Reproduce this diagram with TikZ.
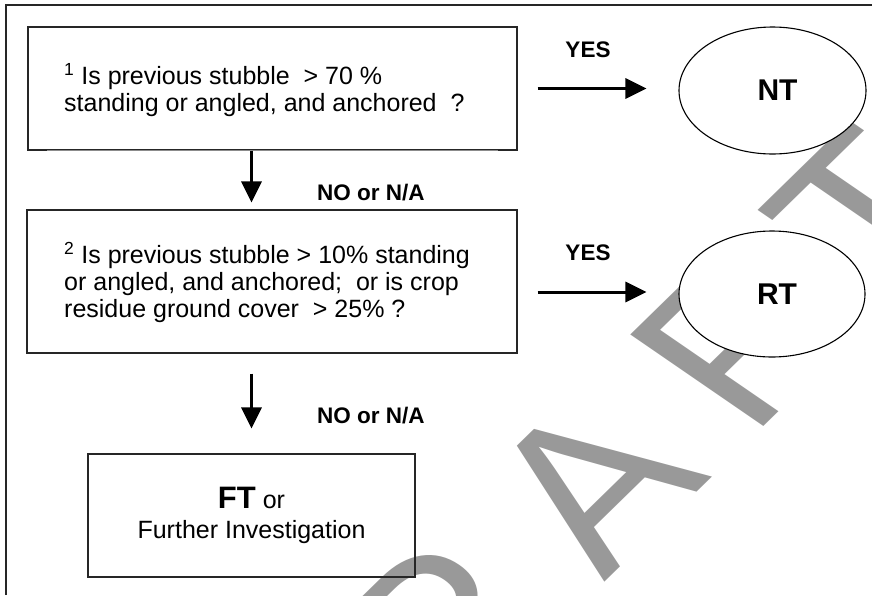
\documentclass[tikz,border=0pt]{standalone}
\usepackage{fontspec}
\setmainfont{Liberation Sans}
\usetikzlibrary{arrows.meta,shapes.geometric}

\tikzset{
  qbox/.style={draw=black!85, line width=1.1pt, inner sep=0pt},
  qtext/.style={align=left, inner sep=0pt, font=\fontsize{25}{27}\selectfont},
  outcome/.style={ellipse, draw=black, fill=white, line width=1.1pt, inner sep=0pt,
                  font=\bfseries\fontsize{30}{30}\selectfont},
  flow/.style={line width=3pt, -{Triangle[length=21pt,width=20pt]}},
  answer/.style={font=\bfseries\fontsize{22.5}{23}\selectfont, inner sep=0pt},
  stamp/.style={text=black!40, inner sep=0pt, font=\fontsize{207}{207}\selectfont}
}
\newcommand{\stampgap}{\hspace{48pt}}

\begin{document}
\begin{tikzpicture}[x=1pt, y=-1pt]
\useasboundingbox (0,0) rectangle (872,595);

% watermark behind everything (widened word art)
\begin{scope}[xscale=1.22]
  \node[stamp, transform shape, rotate=50] (wm) at (470.5,501)
    {D\stampgap R\stampgap A\stampgap F\stampgap T};
\end{scope}

% page frame (only left and top edges fall inside)
\draw[line width=1.4pt, black!85] (6,595) -- (6,5) -- (872,5);

% question boxes
\node[qbox, minimum width=489pt, minimum height=123pt] (q1) at (272.5,88.5) {};
\draw[white, line width=2pt] ([xshift=20pt]q1.south west) -- ([xshift=-20pt]q1.south east);
\draw[black!45, line width=0.6pt] ([xshift=20pt]q1.south west) -- ([xshift=-20pt]q1.south east);
\node[qtext, anchor=north west] (q1t) at (64,63)
  {\textsuperscript{1} Is previous stubble\ \ > 70 \%\\
   standing or angled, and anchored\ \ ?};

\node[qbox, minimum width=490pt, minimum height=143pt] (q2) at (272,281.5) {};
\node[qtext, anchor=north west] (q2t) at (64,242)
  {\textsuperscript{2} Is previous stubble > 10\% standing\\
   or angled, and anchored;\ \ or is crop\\
   residue ground cover\ \ > 25\% ?};

\node[qbox, minimum width=327pt, minimum height=123pt, align=center,
      font=\fontsize{25}{30}\selectfont] (ft) at (251.5,515.5)
  {{\bfseries\fontsize{31}{31}\selectfont FT} or\\ Further Investigation};

% outcomes
\node[outcome, minimum width=187pt, minimum height=127pt] (nt) at (772.5,90.5) {\hspace{10pt}NT};
\node[outcome, minimum width=186pt, minimum height=126pt] (rt) at (772,294) {\hspace{10pt}RT};

% connectors
\draw[flow, shorten <=20pt, shorten >=32pt] (q1.east) -- (q1.east -| nt.west);
\draw[flow, shorten <=20pt, shorten >=32pt] ([yshift=2pt]q2.east |- rt.west) -- ([yshift=2pt]rt.west);
\draw[flow, shorten >=7pt] (q1.south -| ft.north) -- (q2.north -| ft.north);
\draw[flow, shorten <=20pt, shorten >=25pt] (q2.south -| ft.north) -- (ft.north);

% answers
\node[answer, anchor=base] (y1) at (588,57) {YES};
\node[answer, anchor=base] (y2) at (588,260) {YES};
\node[answer, anchor=base west] (n1) at (317,200) {NO or N/A};
\node[answer, anchor=base west] (n2) at (317,423) {NO or N/A};
\end{tikzpicture}
\end{document}
